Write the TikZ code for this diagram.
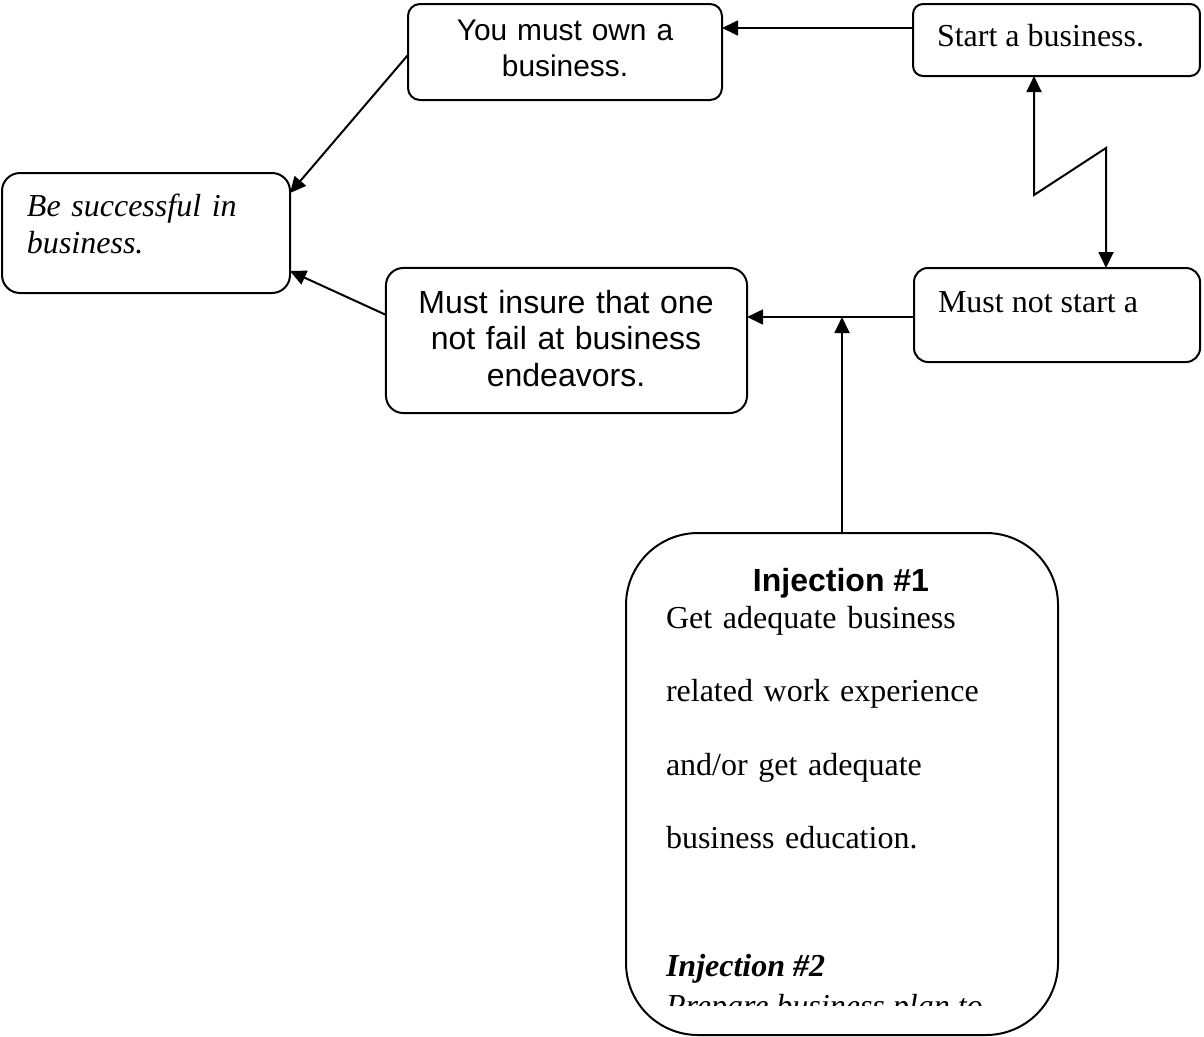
\documentclass[tikz,border=0pt]{standalone}
\usepackage{fontspec}
\setmainfont{Liberation Serif}
\newfontfamily\arialfont{Liberation Sans}
\usetikzlibrary{arrows.meta}
\begin{document}
\begin{tikzpicture}[x=0.375pt,y=-0.375pt,
  box/.style={draw,line width=0.75pt,inner sep=0pt,outer sep=0pt},
  txt/.style={inner sep=0pt,outer sep=0pt},
  arr/.style={line width=0.75pt,-{Triangle[width=5.6pt,length=6pt]}},
  darr/.style={line width=0.75pt,{Triangle[width=5.6pt,length=6pt]}-{Triangle[width=5.6pt,length=6pt]}},
  tnr/.style={font=\fontsize{12}{13.7}\selectfont},
  tnrdbl/.style={font=\fontsize{12}{27.6}\selectfont},
  ari/.style={font=\arialfont\fontsize{12}{13.75}\selectfont},
  arismall/.style={font=\arialfont\fontsize{11.2}{13.6}\selectfont},
]
\useasboundingbox (0,0) rectangle (1204,1036);

% boxes
\node[box,rounded corners=3.75pt,minimum width=107.6pt,minimum height=27pt] (start) at (1056.5,40) {};
\node[box,rounded corners=4.5pt,minimum width=117.75pt,minimum height=36pt] (you) at (565,52) {};
\node[box,rounded corners=6.75pt,minimum width=108pt,minimum height=45pt] (be) at (146,233) {};
\node[box,rounded corners=6.5pt,minimum width=135.4pt,minimum height=54.4pt] (insure) at (566.5,340.5) {};
\node[box,rounded corners=5.25pt,minimum width=107.25pt,minimum height=35.25pt] (notstart) at (1057,315) {};
\node[box,rounded corners=27pt,minimum width=162pt,minimum height=188.25pt] (inj) at (842,784) {};

% texts
\node[txt,tnr,anchor=base west] (tstart) at (937,46.7) {Start a business.};
\node[txt,arismall,text width=110pt,align=center,anchor=base] (tyou) at (565,40.7) {You must own a\\business.};
\node[txt,tnr,text width=100pt,align=left,anchor=base west] (tbe) at (27,216.7) {\itshape Be successful in\\business.};
\node[txt,ari,text width=130pt,align=center,anchor=base] (tinsure) at (566,313) {Must insure that one\\not fail at business\\endeavors.};
\node[txt,tnr,anchor=base west] (tnot) at (938,312) {Must not start a};
\node[txt,ari,anchor=base] (tinj1) at (841,591.7) {\bfseries Injection \#1};
\node[txt,tnrdbl,text width=140pt,align=left,anchor=base west] (tinjbody) at (666,628) {Get adequate business\\related work experience\\and/or get adequate\\business education.};
\node[txt,tnr,anchor=base west] (tinj2) at (666,976) {\bfseries\itshape Injection \#2};
\begin{scope}
  \clip (0,0) rectangle (1204,1005);
  \node[txt,tnr,anchor=base west] (tprep) at (666,1016) {\itshape Prepare business plan to};
\end{scope}

% connectors
\coordinate (h1) at ([yshift=4.5pt]start.west);
\draw[arr] (h1) -- (h1 -| you.east);
\draw[arr] ([yshift=-1.1pt]you.west) -- ([yshift=15pt]be.east);
\draw[arr] ([yshift=9.6pt]insure.west) -- ([yshift=-14.25pt]be.east);
\coordinate (h2) at ([yshift=-0.75pt]notstart.west);
\draw[arr] (h2) -- (h2 -| insure.east);
\coordinate (j) at (inj.north |- h2);
\draw[arr] (inj.north) -- (j);
\coordinate (z1) at (1034,195);
\coordinate (z2) at (1106,148);
\draw[darr] (z1 |- start.south) -- (z1) -- (z2) -- (z2 |- notstart.north);
\end{tikzpicture}
\end{document}
